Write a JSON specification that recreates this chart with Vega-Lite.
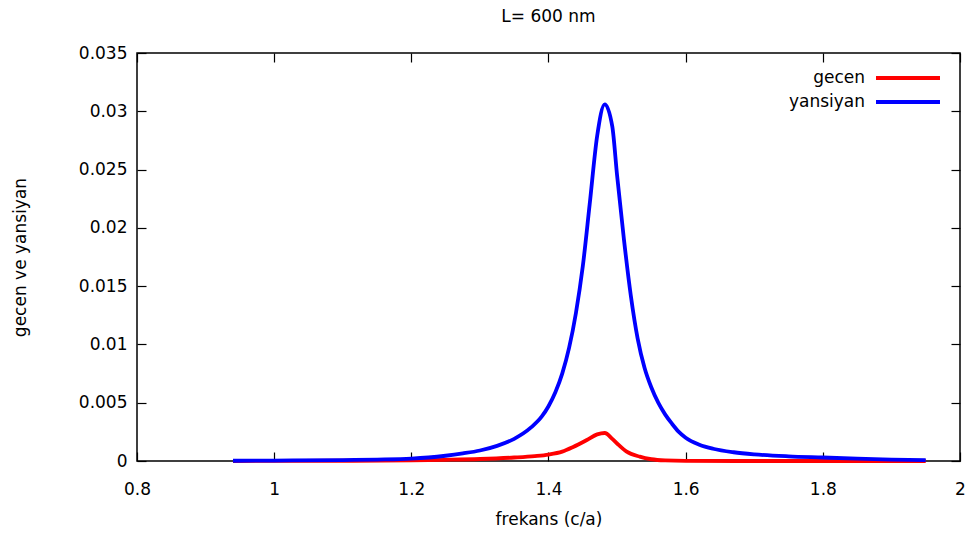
{
  "$schema": "https://vega.github.io/schema/vega-lite/v6.json",
  "autosize": {"type": "none"},
  "width": 823,
  "height": 408,
  "padding": {"left": 137, "top": 53, "right": 12, "bottom": 78},
  "background": "white",
  "title": {"text": "L= 600 nm", "fontSize": 17, "fontWeight": "normal", "font": "DejaVu Sans", "color": "black", "offset": 18},
  "config": {
    "view": {"stroke": "black", "strokeWidth": 1.5},
    "axis": {"labelFont": "DejaVu Sans", "titleFont": "DejaVu Sans", "labelFontSize": 17, "titleFontSize": 17, "titleFontWeight": "normal", "labelColor": "black", "titleColor": "black", "tickColor": "black", "grid": false, "domain": false, "tickSize": -9, "tickWidth": 1.2, "labelFlush": false}
  },
  "data": {"values": [
    {"f": 0.94, "v": 0.0, "s": "gecen"},
    {"f": 1.0, "v": 0.00001, "s": "gecen"},
    {"f": 1.1, "v": 0.00002, "s": "gecen"},
    {"f": 1.2, "v": 0.00005, "s": "gecen"},
    {"f": 1.25, "v": 0.0001, "s": "gecen"},
    {"f": 1.3, "v": 0.00017, "s": "gecen"},
    {"f": 1.35, "v": 0.0003, "s": "gecen"},
    {"f": 1.38, "v": 0.00042, "s": "gecen"},
    {"f": 1.4, "v": 0.00055, "s": "gecen"},
    {"f": 1.42, "v": 0.0008, "s": "gecen"},
    {"f": 1.436, "v": 0.0012, "s": "gecen"},
    {"f": 1.456, "v": 0.0018, "s": "gecen"},
    {"f": 1.471, "v": 0.00228, "s": "gecen"},
    {"f": 1.482, "v": 0.0024, "s": "gecen"},
    {"f": 1.493, "v": 0.0019, "s": "gecen"},
    {"f": 1.5, "v": 0.0015, "s": "gecen"},
    {"f": 1.514, "v": 0.0008, "s": "gecen"},
    {"f": 1.533, "v": 0.00037, "s": "gecen"},
    {"f": 1.55, "v": 0.00015, "s": "gecen"},
    {"f": 1.57, "v": 0.00005, "s": "gecen"},
    {"f": 1.6, "v": 0.00001, "s": "gecen"},
    {"f": 1.7, "v": 0.0, "s": "gecen"},
    {"f": 1.8, "v": 0.0, "s": "gecen"},
    {"f": 1.95, "v": 0.0, "s": "gecen"},
    {"f": 0.94, "v": 0.00002, "s": "yansiyan"},
    {"f": 1.0, "v": 0.00004, "s": "yansiyan"},
    {"f": 1.1, "v": 0.00008, "s": "yansiyan"},
    {"f": 1.15, "v": 0.00012, "s": "yansiyan"},
    {"f": 1.2, "v": 0.0002, "s": "yansiyan"},
    {"f": 1.225, "v": 0.0003, "s": "yansiyan"},
    {"f": 1.25, "v": 0.00045, "s": "yansiyan"},
    {"f": 1.275, "v": 0.00065, "s": "yansiyan"},
    {"f": 1.3, "v": 0.0009, "s": "yansiyan"},
    {"f": 1.325, "v": 0.0013, "s": "yansiyan"},
    {"f": 1.35, "v": 0.0019, "s": "yansiyan"},
    {"f": 1.375, "v": 0.0029, "s": "yansiyan"},
    {"f": 1.39, "v": 0.0038, "s": "yansiyan"},
    {"f": 1.4, "v": 0.0047, "s": "yansiyan"},
    {"f": 1.41, "v": 0.0059, "s": "yansiyan"},
    {"f": 1.42, "v": 0.0075, "s": "yansiyan"},
    {"f": 1.43, "v": 0.0097, "s": "yansiyan"},
    {"f": 1.44, "v": 0.0127, "s": "yansiyan"},
    {"f": 1.45, "v": 0.0167, "s": "yansiyan"},
    {"f": 1.46, "v": 0.022, "s": "yansiyan"},
    {"f": 1.471, "v": 0.0279, "s": "yansiyan"},
    {"f": 1.482, "v": 0.0306, "s": "yansiyan"},
    {"f": 1.493, "v": 0.0287, "s": "yansiyan"},
    {"f": 1.5, "v": 0.0245, "s": "yansiyan"},
    {"f": 1.51, "v": 0.019, "s": "yansiyan"},
    {"f": 1.52, "v": 0.0142, "s": "yansiyan"},
    {"f": 1.53, "v": 0.0105, "s": "yansiyan"},
    {"f": 1.54, "v": 0.008, "s": "yansiyan"},
    {"f": 1.55, "v": 0.0063, "s": "yansiyan"},
    {"f": 1.56, "v": 0.005, "s": "yansiyan"},
    {"f": 1.57, "v": 0.004, "s": "yansiyan"},
    {"f": 1.58, "v": 0.0032, "s": "yansiyan"},
    {"f": 1.59, "v": 0.0025, "s": "yansiyan"},
    {"f": 1.6, "v": 0.002, "s": "yansiyan"},
    {"f": 1.62, "v": 0.0014, "s": "yansiyan"},
    {"f": 1.64, "v": 0.00105, "s": "yansiyan"},
    {"f": 1.67, "v": 0.00075, "s": "yansiyan"},
    {"f": 1.7, "v": 0.00057, "s": "yansiyan"},
    {"f": 1.75, "v": 0.0004, "s": "yansiyan"},
    {"f": 1.8, "v": 0.0003, "s": "yansiyan"},
    {"f": 1.85, "v": 0.0002, "s": "yansiyan"},
    {"f": 1.9, "v": 0.00012, "s": "yansiyan"},
    {"f": 1.95, "v": 0.00008, "s": "yansiyan"}
  ]},
  "layer": [
    {
      "mark": {"type": "line", "strokeWidth": 3.8, "interpolate": "monotone"},
      "encoding": {
        "x": {"field": "f", "type": "quantitative", "scale": {"domain": [0.8, 2.0], "nice": false}, "axis": {"title": "frekans (c/a)", "values": [0.8, 1, 1.2, 1.4, 1.6, 1.8, 2], "format": "~g", "labelPadding": 29, "titleY": 50}},
        "y": {"field": "v", "type": "quantitative", "scale": {"domain": [0, 0.035], "nice": false}, "axis": {"title": "gecen ve yansiyan", "values": [0, 0.005, 0.01, 0.015, 0.02, 0.025, 0.03, 0.035], "format": "~g", "labelPadding": 19, "titleX": -108}},
        "color": {"field": "s", "type": "nominal", "scale": {"domain": ["gecen", "yansiyan"], "range": ["#ff0000", "#0000ff"]},
          "legend": {"title": null, "orient": "top-right", "symbolType": "M-3,0H3", "symbolSize": 455, "symbolStrokeWidth": 4, "labelFont": "DejaVu Sans", "labelFontSize": 17, "labelColor": "black", "labelAlign": "right", "labelOffset": -56, "rowPadding": 3, "offset": 12, "padding": 0}}
      }
    },
    {
      "mark": {"type": "line", "strokeOpacity": 0},
      "encoding": {
        "x": {"field": "f", "type": "quantitative", "axis": {"orient": "top", "title": null, "labels": false, "values": [0.8, 1, 1.2, 1.4, 1.6, 1.8, 2]}},
        "y": {"field": "v", "type": "quantitative", "axis": {"orient": "right", "title": null, "labels": false, "values": [0, 0.005, 0.01, 0.015, 0.02, 0.025, 0.03, 0.035]}}
      }
    }
  ],
  "resolve": {"axis": {"x": "independent", "y": "independent"}}
}
